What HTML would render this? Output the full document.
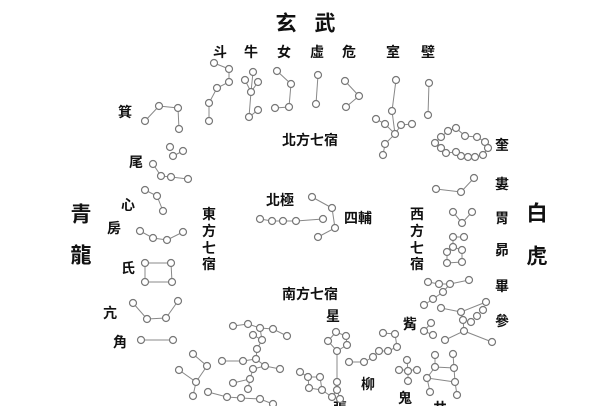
<!DOCTYPE html>
<html><head><meta charset="utf-8">
<style>
html,body{margin:0;padding:0;background:#fff;}
svg{display:block;}
text{font-family:"Liberation Sans","Noto Sans CJK TC",sans-serif;font-weight:bold;fill:#111;dominant-baseline:central;text-anchor:middle;}
.s{font-size:14px;}
.b{font-size:21px;}
.l{stroke:#888;stroke-width:1;fill:none;}
.c{stroke:#777;stroke-width:1.2;fill:#fff;}
</style></head>
<body>
<svg width="601" height="406" viewBox="0 0 601 406" xmlns="http://www.w3.org/2000/svg">
<!-- labels -->
<text class="b" x="286" y="24">玄</text><text class="b" x="325" y="24">武</text>
<text class="b" x="81" y="215">青</text><text class="b" x="81" y="256">龍</text>
<text class="b" x="537" y="214">白</text><text class="b" x="537" y="257">虎</text>
<g class="s">
<text x="220" y="52">斗</text><text x="251" y="52">牛</text><text x="284" y="52">女</text>
<text x="317" y="52">虛</text><text x="349" y="52">危</text><text x="393" y="52">室</text><text x="428" y="52">壁</text>
<text x="310" y="140">北方七宿</text>
<text x="310" y="294">南方七宿</text>
<text x="280" y="200">北極</text>
<text x="358" y="218">四輔</text>
<text x="125" y="112">箕</text><text x="136" y="162">尾</text><text x="128" y="205">心</text>
<text x="114" y="228">房</text><text x="128" y="268">氏</text><text x="110" y="313">亢</text><text x="120" y="342">角</text>
<text x="502" y="145">奎</text><text x="502" y="184">婁</text><text x="502" y="218">胃</text>
<text x="502" y="250">昴</text><text x="502" y="286">畢</text><text x="502" y="321">參</text>
<text x="410" y="324">觜</text><text x="333" y="316">星</text><text x="368" y="384">柳</text>
<text x="405" y="398">鬼</text><text x="440" y="408">井</text><text x="340" y="408">張</text>
<text x="209" y="214">東</text><text x="209" y="231">方</text><text x="209" y="248">七</text><text x="209" y="264">宿</text>
<text x="417" y="214">西</text><text x="417" y="231">方</text><text x="417" y="248">七</text><text x="417" y="264">宿</text>
</g>
<!-- lines -->
<g class="l">
<polyline points="214,63 229,69 229,82 217,88 209,103 209,121"/>
<polyline points="253,72 251,92 249,117 258,110"/><polyline points="245,80 251,92 258,82"/>
<polyline points="277,71 291,84 289,107 275,108"/>
<polyline points="318,75 316,104"/>
<polyline points="345,81 359,96 346,107"/>
<polyline points="396,80 392,111 395,134 385,144 383,155"/><polyline points="376,119 385,124 395,134 401,125 412,124"/>
<polyline points="429,83 428,115"/>
<polygon points="435,143 441,137 448,131 456,128 465,136 477,137 485,142 488,148 483,155 475,157 468,157 461,156 456,152 446,153 441,148"/>
<polyline points="436,189 461,192 474,178"/>
<polyline points="453,212 462,223 472,212"/>
<polyline points="464,237 453,237 453,247 447,252 447,263 462,262 462,250 453,247"/>
<polyline points="428,282 439,284 450,284 469,280"/><polyline points="450,284 443,292 433,299 424,305"/>
<polyline points="441,308 461,312 486,302"/><polyline points="461,312 463,320 464,331 445,340"/><polyline points="464,331 492,342"/>
<polyline points="431,323 424,331 433,335"/>
<polyline points="453,354 454,368 435,367 435,355"/><polyline points="435,367 427,378 430,392"/><polyline points="454,368 455,382 457,395"/><polyline points="427,378 455,382"/>
<polyline points="407,360 408,371 408,381"/><polyline points="399,370 417,370"/>
<polyline points="349,362 364,362 373,357 379,351 388,351 397,347 395,334 383,333"/>
<polygon points="336,332 346,336 347,345 337,351 328,341"/><polyline points="337,351 337,382 337,390 332,397"/><polyline points="337,390 340,399"/>
<polyline points="300,372 308,377 320,377 322,390 309,388 308,377"/><polyline points="322,390 332,397"/>
<polyline points="260,219 272,221 283,221 296,221 323,219"/>
<polyline points="312,197 332,208 335,228 318,237"/>
<polyline points="145,121 159,106 178,108 179,129"/>
<polyline points="183,151 173,156"/>
<polyline points="153,164 161,176 171,177 188,179"/>
<polyline points="145,190 157,196 163,211"/>
<polyline points="140,231 153,238 167,240 183,232"/>
<polygon points="145,263 171,263 172,282 145,282"/>
<polyline points="133,303 147,319 166,318 178,301"/>
<polyline points="141,340 173,340"/>
<polyline points="193,354 207,366 196,382"/><polyline points="179,370 196,382 193,396"/>
<polyline points="233,326 248,324 260,328 273,329 287,336"/>
<polyline points="260,328 262,340 257,349 256,359 243,361 222,361"/><polyline points="253,335 262,340"/>
<polyline points="256,359 265,366 280,369"/><polyline points="265,366 253,369 250,379 233,383"/><polyline points="250,379 248,389"/>
<polyline points="208,392 227,397 241,398 260,399 273,404"/>
</g>
<!-- stars -->
<g class="c" id="stars">
<circle cx="214" cy="63" r="3.5"/><circle cx="229" cy="69" r="3.5"/><circle cx="229" cy="82" r="3.5"/><circle cx="217" cy="88" r="3.5"/><circle cx="209" cy="103" r="3.5"/><circle cx="209" cy="121" r="3.5"/>
<circle cx="253" cy="72" r="3.5"/><circle cx="245" cy="80" r="3.5"/><circle cx="258" cy="82" r="3.5"/><circle cx="251" cy="92" r="3.5"/><circle cx="249" cy="117" r="3.5"/><circle cx="258" cy="110" r="3.5"/>
<circle cx="277" cy="71" r="3.5"/><circle cx="291" cy="84" r="3.5"/><circle cx="289" cy="107" r="3.5"/><circle cx="275" cy="108" r="3.5"/>
<circle cx="318" cy="75" r="3.5"/><circle cx="316" cy="104" r="3.5"/>
<circle cx="345" cy="81" r="3.5"/><circle cx="359" cy="96" r="3.5"/><circle cx="346" cy="107" r="3.5"/>
<circle cx="396" cy="80" r="3.5"/><circle cx="392" cy="111" r="3.5"/><circle cx="395" cy="134" r="3.5"/><circle cx="385" cy="144" r="3.5"/><circle cx="383" cy="155" r="3.5"/><circle cx="376" cy="119" r="3.5"/><circle cx="385" cy="124" r="3.5"/><circle cx="401" cy="125" r="3.5"/><circle cx="412" cy="124" r="3.5"/>
<circle cx="429" cy="83" r="3.5"/><circle cx="428" cy="115" r="3.5"/>
<circle cx="435" cy="143" r="3.5"/><circle cx="441" cy="137" r="3.5"/><circle cx="448" cy="131" r="3.5"/><circle cx="456" cy="128" r="3.5"/><circle cx="465" cy="136" r="3.5"/><circle cx="477" cy="137" r="3.5"/><circle cx="485" cy="142" r="3.5"/><circle cx="488" cy="148" r="3.5"/><circle cx="483" cy="155" r="3.5"/><circle cx="475" cy="157" r="3.5"/><circle cx="468" cy="157" r="3.5"/><circle cx="461" cy="156" r="3.5"/><circle cx="456" cy="152" r="3.5"/><circle cx="446" cy="153" r="3.5"/><circle cx="441" cy="148" r="3.5"/>
<circle cx="436" cy="189" r="3.5"/><circle cx="461" cy="192" r="3.5"/><circle cx="474" cy="178" r="3.5"/>
<circle cx="453" cy="212" r="3.5"/><circle cx="462" cy="223" r="3.5"/><circle cx="472" cy="212" r="3.5"/>
<circle cx="453" cy="237" r="3.5"/><circle cx="464" cy="237" r="3.5"/><circle cx="453" cy="247" r="3.5"/><circle cx="447" cy="252" r="3.5"/><circle cx="447" cy="263" r="3.5"/><circle cx="462" cy="262" r="3.5"/><circle cx="462" cy="250" r="3.5"/>
<circle cx="428" cy="282" r="3.5"/><circle cx="439" cy="284" r="3.5"/><circle cx="450" cy="284" r="3.5"/><circle cx="469" cy="280" r="3.5"/><circle cx="443" cy="292" r="3.5"/><circle cx="433" cy="299" r="3.5"/><circle cx="424" cy="305" r="3.5"/>
<circle cx="441" cy="308" r="3.5"/><circle cx="461" cy="312" r="3.5"/><circle cx="486" cy="302" r="3.5"/><circle cx="483" cy="310" r="3.5"/><circle cx="477" cy="316" r="3.5"/><circle cx="471" cy="322" r="3.5"/><circle cx="463" cy="320" r="3.5"/><circle cx="464" cy="331" r="3.5"/><circle cx="445" cy="340" r="3.5"/><circle cx="492" cy="342" r="3.5"/>
<circle cx="431" cy="323" r="3.5"/><circle cx="424" cy="331" r="3.5"/><circle cx="433" cy="335" r="3.5"/>
<circle cx="435" cy="355" r="3.5"/><circle cx="453" cy="354" r="3.5"/><circle cx="435" cy="367" r="3.5"/><circle cx="454" cy="368" r="3.5"/><circle cx="427" cy="378" r="3.5"/><circle cx="455" cy="382" r="3.5"/><circle cx="430" cy="392" r="3.5"/><circle cx="457" cy="395" r="3.5"/>
<circle cx="407" cy="360" r="3.5"/><circle cx="399" cy="370" r="3.5"/><circle cx="408" cy="371" r="3.5"/><circle cx="417" cy="370" r="3.5"/><circle cx="408" cy="381" r="3.5"/>
<circle cx="349" cy="362" r="3.5"/><circle cx="364" cy="362" r="3.5"/><circle cx="373" cy="357" r="3.5"/><circle cx="379" cy="351" r="3.5"/><circle cx="388" cy="351" r="3.5"/><circle cx="397" cy="347" r="3.5"/><circle cx="395" cy="334" r="3.5"/><circle cx="383" cy="333" r="3.5"/>
<circle cx="336" cy="332" r="3.5"/><circle cx="328" cy="341" r="3.5"/><circle cx="346" cy="336" r="3.5"/><circle cx="347" cy="345" r="3.5"/><circle cx="337" cy="351" r="3.5"/><circle cx="337" cy="382" r="3.5"/><circle cx="337" cy="390" r="3.5"/><circle cx="332" cy="397" r="3.5"/><circle cx="340" cy="399" r="3.5"/>
<circle cx="300" cy="372" r="3.5"/><circle cx="308" cy="377" r="3.5"/><circle cx="320" cy="377" r="3.5"/><circle cx="309" cy="388" r="3.5"/><circle cx="322" cy="390" r="3.5"/>
<circle cx="260" cy="219" r="3.5"/><circle cx="272" cy="221" r="3.5"/><circle cx="283" cy="221" r="3.5"/><circle cx="296" cy="221" r="3.5"/><circle cx="323" cy="219" r="3.5"/>
<circle cx="312" cy="197" r="3.5"/><circle cx="332" cy="208" r="3.5"/><circle cx="335" cy="228" r="3.5"/><circle cx="318" cy="237" r="3.5"/>
<circle cx="145" cy="121" r="3.5"/><circle cx="159" cy="106" r="3.5"/><circle cx="178" cy="108" r="3.5"/><circle cx="179" cy="129" r="3.5"/>
<circle cx="170" cy="147" r="3.5"/><circle cx="183" cy="151" r="3.5"/><circle cx="173" cy="156" r="3.5"/>
<circle cx="153" cy="164" r="3.5"/><circle cx="161" cy="176" r="3.5"/><circle cx="171" cy="177" r="3.5"/><circle cx="188" cy="179" r="3.5"/>
<circle cx="145" cy="190" r="3.5"/><circle cx="157" cy="196" r="3.5"/><circle cx="163" cy="211" r="3.5"/>
<circle cx="140" cy="231" r="3.5"/><circle cx="153" cy="238" r="3.5"/><circle cx="167" cy="240" r="3.5"/><circle cx="183" cy="232" r="3.5"/>
<circle cx="145" cy="263" r="3.5"/><circle cx="171" cy="263" r="3.5"/><circle cx="145" cy="282" r="3.5"/><circle cx="172" cy="282" r="3.5"/>
<circle cx="133" cy="303" r="3.5"/><circle cx="147" cy="319" r="3.5"/><circle cx="166" cy="318" r="3.5"/><circle cx="178" cy="301" r="3.5"/>
<circle cx="141" cy="340" r="3.5"/><circle cx="173" cy="340" r="3.5"/>
<circle cx="193" cy="354" r="3.5"/><circle cx="207" cy="366" r="3.5"/><circle cx="179" cy="370" r="3.5"/><circle cx="196" cy="382" r="3.5"/><circle cx="193" cy="396" r="3.5"/>
<circle cx="233" cy="326" r="3.5"/><circle cx="248" cy="324" r="3.5"/><circle cx="260" cy="328" r="3.5"/><circle cx="273" cy="329" r="3.5"/><circle cx="287" cy="336" r="3.5"/><circle cx="253" cy="335" r="3.5"/><circle cx="262" cy="340" r="3.5"/><circle cx="257" cy="349" r="3.5"/><circle cx="256" cy="359" r="3.5"/><circle cx="222" cy="361" r="3.5"/><circle cx="243" cy="361" r="3.5"/><circle cx="265" cy="366" r="3.5"/><circle cx="280" cy="369" r="3.5"/><circle cx="253" cy="369" r="3.5"/><circle cx="250" cy="379" r="3.5"/><circle cx="233" cy="383" r="3.5"/><circle cx="248" cy="389" r="3.5"/><circle cx="208" cy="392" r="3.5"/><circle cx="227" cy="397" r="3.5"/><circle cx="241" cy="398" r="3.5"/><circle cx="260" cy="399" r="3.5"/><circle cx="273" cy="404" r="3.5"/>
</g>
</svg>
</body></html>
